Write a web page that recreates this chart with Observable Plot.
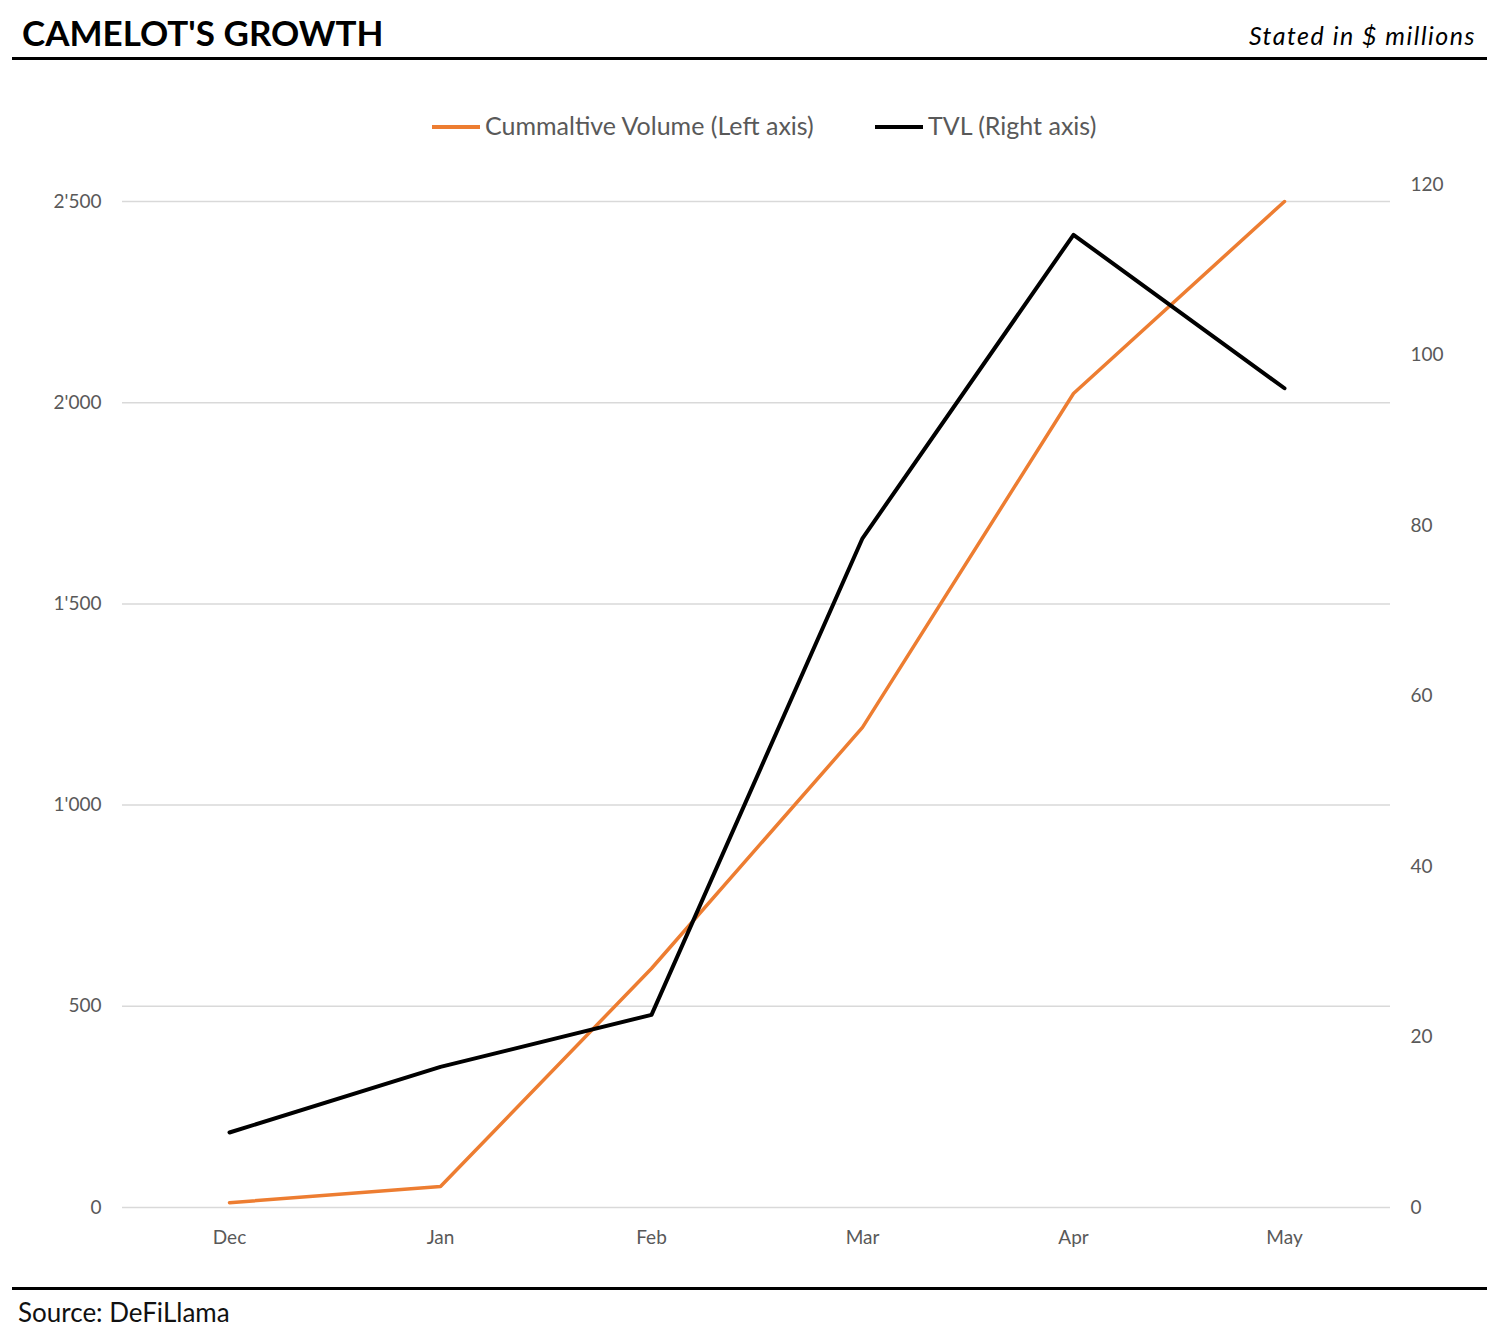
<!DOCTYPE html>
<html>
<head>
<meta charset="utf-8">
<script src="https://cdn.jsdelivr.net/npm/d3@7"></script>
<script src="https://cdn.jsdelivr.net/npm/@observablehq/plot@0.6"></script>
<style>
  html, body { margin: 0; padding: 0; background: #fff; }
  body { width: 1500px; height: 1334px; position: relative; font-family: Lato, "Open Sans", sans-serif; overflow: hidden; }
  .abs { position: absolute; white-space: nowrap; }
  #title { left: 22px; top: 15px; font-size: 35px; line-height: 35px; font-weight: 700; color: #000; }
  #subtitle { right: 24px; top: 23px; font-size: 25px; line-height: 25px; font-style: italic; color: #000; letter-spacing: 1.5px; }
  .rule { position: absolute; left: 12px; width: 1475px; height: 3px; background: #000; }
  .legtext { font-size: 25px; line-height: 25px; color: #595959; }
  .swatch { position: absolute; height: 4px; }
  #source { left: 18px; top: 1299px; font-size: 26px; line-height: 26px; color: #111; }
  #chart { position: absolute; left: 0; top: 150px; }
</style>
</head>
<body>
<div id="title" class="abs">CAMELOT'S GROWTH</div>
<div id="subtitle" class="abs">Stated in $ millions</div>
<div class="rule" style="top:57px"></div>
<div id="legend"></div>
<div id="chart"></div>
<div class="rule" style="top:1287px"></div>
<div id="source" class="abs">Source: DeFiLlama</div>
<script>
const months = ["Dec", "Jan", "Feb", "Mar", "Apr", "May"];
const volume = [12, 52, 594, 1193, 2023, 2500];      // Cumulative volume, left axis ($m)
const tvl = [8.8, 16.5, 22.6, 78.5, 114.1, 96.1];     // TVL, right axis ($m)
const leftTicks = [0, 500, 1000, 1500, 2000, 2500];
const leftTickLabels = ["0", "500", "1'000", "1'500", "2'000", "2'500"];
const rightTicks = [0, 20, 40, 60, 80, 100, 120];
const seriesNames = ["Cummaltive Volume (Left axis)", "TVL (Right axis)"];
const seriesColors = ["#ED7D31", "#000000"];

// Legend
const legend = document.getElementById("legend");
const legendX = [432, 875];
seriesNames.forEach((name, i) => {
  const sw = document.createElement("div");
  sw.className = "swatch";
  sw.style.left = legendX[i] + "px";
  sw.style.top = "125px";
  sw.style.width = "48px";
  sw.style.background = seriesColors[i];
  legend.appendChild(sw);
  const t = document.createElement("div");
  t.className = "abs legtext";
  t.style.left = (legendX[i] + 53) + "px";
  t.style.top = "113px";
  t.textContent = name;
  legend.appendChild(t);
});

// Left axis maps onto the right-axis domain [0,120]
const rightMax = 120;
const leftMax = 2500 * 1023 / 1006;
const k = rightMax / leftMax;

const data = months.map((m, i) => ({month: m, volume: volume[i], tvl: tvl[i]}));

const chart = Plot.plot({
  width: 1500,
  height: 1120,
  marginTop: 34,
  marginBottom: 63,
  marginLeft: 122,
  marginRight: 110,
  style: {fontFamily: "Lato, 'Open Sans', sans-serif", fontSize: "19px", color: "#595959", background: "#fff"},
  x: {type: "point", domain: months, padding: 0.5, label: null},
  y: {domain: [0, rightMax], label: null},
  marks: [
    Plot.ruleY(leftTicks.map(v => v * k), {stroke: "#d9d9d9", strokeWidth: 1.5}),
    Plot.axisY(leftTicks.map(v => v * k), {
      anchor: "left", tickSize: 0, tickPadding: 21, label: null,
      tickFormat: d => leftTickLabels[leftTicks.indexOf(Math.round(d / k))]
    }),
    Plot.axisY(rightTicks, {anchor: "right", tickSize: 0, tickPadding: 20, label: null}),
    Plot.axisX({tickSize: 0, tickPadding: 23, label: null}),
    Plot.line(data, {x: "month", y: d => d.volume * k, stroke: seriesColors[0], strokeWidth: 3.5}),
    Plot.line(data, {x: "month", y: "tvl", stroke: seriesColors[1], strokeWidth: 4})
  ]
});
document.getElementById("chart").appendChild(chart);
</script>
</body>
</html>
